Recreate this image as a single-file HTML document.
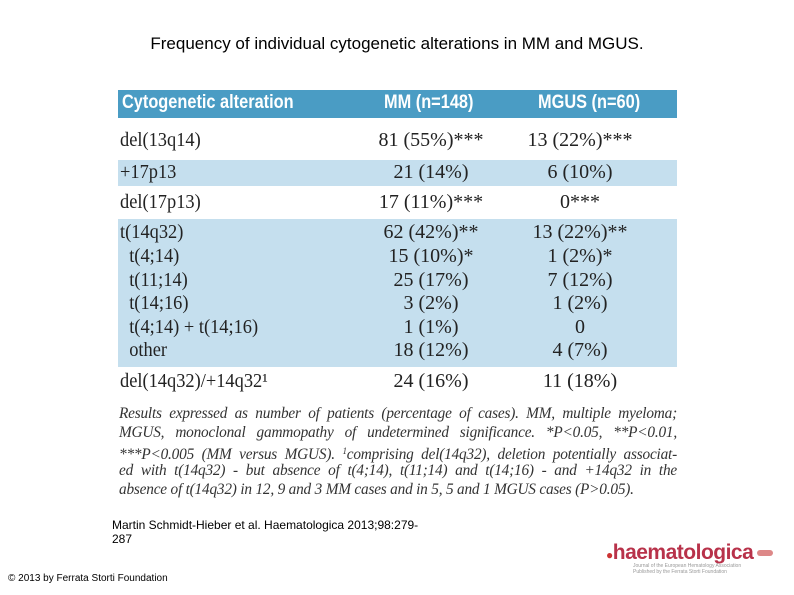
<!DOCTYPE html>
<html><head><meta charset="utf-8"><style>
body{margin:0;width:794px;height:595px;background:#fff;position:relative;overflow:hidden;font-family:"Liberation Serif",serif;}
.a{position:absolute;}
.title{left:0;width:794px;top:34px;text-align:center;font:17px "Liberation Sans",sans-serif;}
.hdr{left:118px;top:90px;width:559px;height:28px;background:#4a9cc4;color:#fff;font:bold 19px "Liberation Sans",sans-serif;}
.hdr span{transform:scaleX(0.86);transform-origin:left;white-space:nowrap;}
.band{left:118px;width:559px;background:#c5dfee;}
.t{font-size:20px;color:#222;white-space:nowrap;line-height:24px;transform:scaleX(0.92);transform-origin:left;}
.c{text-align:center;width:200px;transform:none;}
.foot{left:119px;width:558px;font-style:italic;font-size:15.3px;line-height:19px;text-align:justify;text-align-last:justify;color:#333;letter-spacing:-0.2px;white-space:nowrap;}
.small{font:12px "Liberation Sans",sans-serif;}
</style></head><body>
<div class="a title">Frequency of individual cytogenetic alterations in MM and MGUS.</div>
<div class="a hdr">
 <span class="a" style="left:4px;top:2px">Cytogenetic alteration</span>
 <span class="a" style="left:266px;top:2px">MM (n=148)</span>
 <span class="a" style="left:420px;top:2px">MGUS (n=60)</span>
</div>
<div class="a band" style="top:160px;height:26px"></div>
<div class="a band" style="top:219px;height:148px"></div>
<div id="rows"></div>
<div>
<div class="a foot" style="top:404px">Results expressed as number of patients (percentage of cases). MM, multiple myeloma;</div>
<div class="a foot" style="top:423px">MGUS, monoclonal gammopathy of undetermined significance. *P&lt;0.05, **P&lt;0.01,</div>
<div class="a foot" style="top:442px">***P&lt;0.005 (MM versus MGUS). <span style="font-size:9px;vertical-align:5px">1</span>comprising del(14q32), deletion potentially associat-</div>
<div class="a foot" style="top:461px">ed with t(14q32) - but absence of t(4;14), t(11;14) and t(14;16) - and +14q32 in the</div>
<div class="a foot" style="top:480px;text-align-last:left">absence of t(14q32) in 12, 9 and 3 MM cases and in 5, 5 and 1 MGUS cases (P&gt;0.05).</div>
</div>
<div class="a small" style="left:112px;top:518px;line-height:14px;white-space:nowrap">Martin Schmidt-Hieber et al. Haematologica 2013;98:279-<br>287</div>
<div class="a small" style="left:8px;top:573px;font-size:10px">© 2013 by Ferrata Storti Foundation</div>
<div class="a" style="left:606px;top:541px;font:bold 21px 'Liberation Sans',sans-serif;color:#b8324a;letter-spacing:-0.5px"><span style="color:#c33;font-size:12px">●</span>haematologica</div>
<div class="a" style="left:633px;top:563px;font:5px 'Liberation Sans',sans-serif;color:#999;line-height:6px">Journal of the European Hematology Association<br>Published by the Ferrata Storti Foundation</div>
<div class="a" style="left:757px;top:550px;width:16px;height:6px;background:#d88;border-radius:3px"></div>
<script>
const labels=["del(13q14)","+17p13","del(17p13)","t(14q32)","\u00a0\u00a0t(4;14)","\u00a0\u00a0t(11;14)","\u00a0\u00a0t(14;16)","\u00a0\u00a0t(4;14) + t(14;16)","\u00a0\u00a0other","del(14q32)/+14q32\u00b9"];
const mm=["81 (55%)***","21 (14%)","17 (11%)***","62 (42%)**","15 (10%)*","25 (17%)","3 (2%)","1 (1%)","18 (12%)","24 (16%)"];
const mgus=["13 (22%)***","6 (10%)","0***","13 (22%)**","1 (2%)*","7 (12%)","1 (2%)","0","4 (7%)","11 (18%)"];
const tops=[128,160,190,220,244,268,291,315,338,369];
const root=document.getElementById('rows');
labels.forEach((l,i)=>{
 const a=document.createElement('div');a.className='a t';a.style.left='120px';a.style.top=tops[i]+'px';a.textContent=l;
 
 
 root.appendChild(a);
 const b=document.createElement('div');b.className='a t c';b.style.left='331px';b.style.top=tops[i]+'px';b.textContent=mm[i];
 
 
 root.appendChild(b);
 const c=document.createElement('div');c.className='a t c';c.style.left='480px';c.style.top=tops[i]+'px';c.textContent=mgus[i];
 
 
 root.appendChild(c);
});
</script>
</body></html>
